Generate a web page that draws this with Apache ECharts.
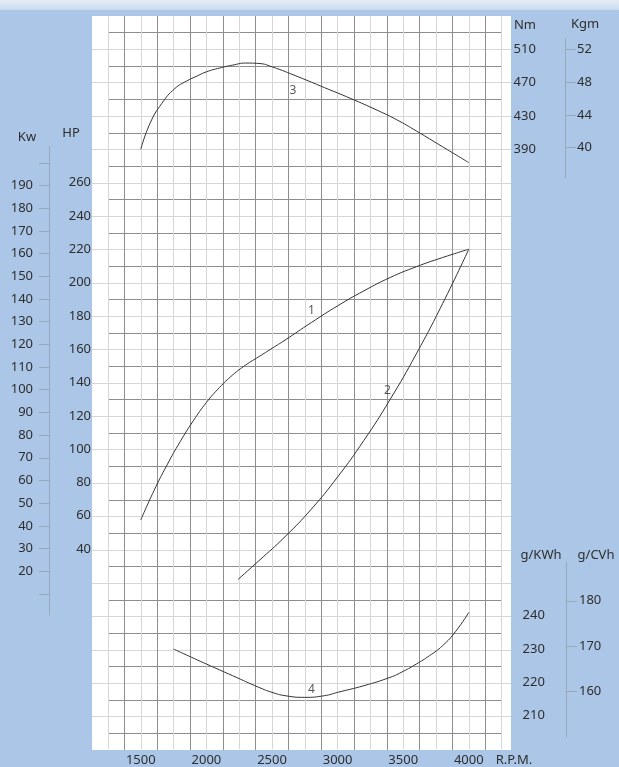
<!DOCTYPE html>
<html><head><meta charset="utf-8">
<script src="https://cdn.jsdelivr.net/npm/echarts@6/dist/echarts.min.js"></script>
<style>html,body{margin:0;padding:0;background:#abc6e6;}#c{width:619px;height:767px;}</style>
</head><body><div id="c"></div>
<script>
// ---------------- DATA ----------------
const rpmTicks = [1500, 2000, 2500, 3000, 3500, 4000];
const hpTicks = [40, 60, 80, 100, 120, 140, 160, 180, 200, 220, 240, 260];
const kwLabels = [20, 30, 40, 50, 60, 70, 80, 90, 100, 110, 120, 130, 140, 150, 160, 170, 180, 190];
const kwTicks = [10, 20, 30, 40, 50, 60, 70, 80, 90, 100, 110, 120, 130, 140, 150, 160, 170, 180, 190, 200];
const nmTicks = [390, 430, 470, 510];
const kgmTicks = [40, 44, 48, 52];
const gkwhTicks = [210, 220, 230, 240];
const gcvhTicks = [160, 170, 180];

// curve 1 : power (HP)
const powerRpm = [1500, 1600, 1700, 1800, 1900, 2000, 2100, 2200, 2300, 2400, 2500, 2600, 2800, 3000, 3200, 3400, 3600, 3800, 4000];
const powerHp  = [57.5, 75, 90.5, 104.5, 117, 128, 137, 144.5, 150.5, 155.5, 160.5, 165.5, 176, 186, 195, 203, 209.5, 215, 220];
// curve 2 : power (HP), second curve
const power2Rpm = [2241, 2400, 2600, 2800, 3000, 3200, 3400, 3600, 3800, 4000];
const power2Hp  = [21.8, 33, 47.5, 64, 83.3, 105.2, 129.8, 157.2, 187.3, 220];
// curve 3 : torque (Nm)
const torqueRpm = [1500, 1570, 1660, 1760, 1850, 1930, 2000, 2100, 2200, 2300, 2400, 2500, 2700, 2900, 3100, 3300, 3450, 3600, 3800, 4000];
const torqueNm  = [390, 421, 445, 463, 472, 478, 483, 487.5, 491, 493.5, 493, 489, 477, 464, 451, 437, 425.5, 412, 393, 374];
// curve 4 : specific fuel consumption (g/kWh)
const fuelRpm  = [1750, 2000, 2200, 2400, 2500, 2600, 2750, 2900, 3000, 3200, 3400, 3500, 3600, 3700, 3800, 3900, 4000];
const fuelGkwh = [230, 225.5, 222, 218.5, 217, 216, 215.5, 216, 217, 219, 221.5, 223.3, 225.5, 228, 231, 235.3, 241];

// curve number labels [text, rpm, value]
const hpCurveLabels = [['1', 2800, 183], ['2', 3380, 135]];
const nmCurveLabels = [['3', 2660, 460]];
const fuelCurveLabels = [['4', 2800, 217.7]];

// unit conversions
const KW_PER_HP = 0.7355;
const NM_PER_KGM = 9.80665;
const CV_PER_KW = 0.7355;

// ---------------- LAYOUT ----------------
const GL = 108, GR = 501.6, GT = 16, GB = 750;    // main grid
const ROWS = 44, RH = (GB - GT) / ROWS;
const COLW = (GR - GL) / 24;
const WL = 92, WR = 511;                           // white paper
function rowAt(y) { return (GB - y) / RH; }
const HP_A = {v: 260, row: 34, per: 10};
const NM_A = {v: 510, row: 42, per: 20};
const G_A  = {v: 210, row: 2,  per: 5};
function valAt(a, y) { return a.v + (rowAt(y) - a.row) * a.per; }

const KW_TOP = 146.7, KW_BOT = 615;
const KGM_TOP = 39, KGM_BOT = 178;
const CV_TOP = 562, CV_BOT = 737;

const FONT = 'Noto Sans';
const TXT = '#2e2e2e';
const LIGHT = '#d6d6d6', DARK = '#8e8e8e', AXC = '#97a8bb';
const lbl = (extra) => Object.assign({fontFamily: FONT, fontSize: 13, color: TXT}, extra);
const plain = v => String(v);

const pair = (xs, ys) => xs.map((x, i) => [x, ys[i]]);
const none = {show: false};
const curve = (yIdx, data) => ({type: 'line', xAxisIndex: 1, yAxisIndex: yIdx, data: data,
  smooth: true, symbol: 'none', lineStyle: {color: '#333', width: 1}, z: 5});
const tags = (yIdx, list) => ({type: 'scatter', xAxisIndex: 1, yAxisIndex: yIdx,
  symbol: 'circle', symbolSize: 1, itemStyle: {color: 'rgba(0,0,0,0)'},
  data: list.map(d => ({name: d[0], value: [d[1], d[2]]})),
  label: lbl({show: true, position: 'inside', formatter: '{b}', fontSize: 12}), z: 6});

const option = {
  animation: false,
  backgroundColor: '#abc6e6',
  grid: [
    {left: WL, top: GT, width: WR - WL, height: GB - GT, show: true, backgroundColor: '#ffffff', borderWidth: 0},
    {left: GL, top: GT, width: GR - GL, height: GB - GT},
    {left: GL, top: GT + RH, width: GR - GL, height: GB - GT - 2 * RH},
    {left: GL + COLW, top: GT, width: GR - GL - 2 * COLW, height: GB - GT},
    {left: 49, top: KW_TOP, width: 20, height: KW_BOT - KW_TOP},
    {left: 565, top: KGM_TOP, width: 20, height: KGM_BOT - KGM_TOP},
    {left: 566, top: CV_TOP, width: 20, height: CV_BOT - CV_TOP}
  ],
  xAxis: [
    {gridIndex: 0, type: 'value', min: 0, max: 1, show: false},
    {gridIndex: 1, type: 'value', min: 1250, max: 4250, interval: 250,
      axisLine: none, axisTick: none,
      splitLine: {show: true, lineStyle: {color: LIGHT, width: 1}},
      axisLabel: lbl({customValues: rpmTicks, margin: 5, formatter: plain})},
    {gridIndex: 2, type: 'value', min: 0, max: 1, show: false},
    {gridIndex: 3, type: 'value', min: 0, max: 2750, interval: 250,
      axisLine: none, axisTick: none, axisLabel: none,
      splitLine: {show: true, lineStyle: {color: DARK, width: 1}}},
    {gridIndex: 4, type: 'value', show: false},
    {gridIndex: 5, type: 'value', show: false},
    {gridIndex: 6, type: 'value', show: false}
  ],
  yAxis: [
    {gridIndex: 0, type: 'value', min: 0, max: ROWS, interval: 2,
      axisLine: none, axisTick: none, axisLabel: none,
      splitLine: {show: true, showMinLine: false, showMaxLine: false, lineStyle: {color: LIGHT, width: 1}}},
    {gridIndex: 1, type: 'value', position: 'left', min: valAt(HP_A, GB), max: valAt(HP_A, GT),
      axisLine: none, axisTick: none, splitLine: none,
      axisLabel: lbl({customValues: hpTicks, margin: 17, formatter: plain})},
    {gridIndex: 1, type: 'value', position: 'right', offset: 0, min: valAt(NM_A, GB), max: valAt(NM_A, GT),
      axisLine: none, axisTick: none, splitLine: none,
      axisLabel: lbl({customValues: nmTicks, margin: 12, formatter: plain})},
    {gridIndex: 1, type: 'value', position: 'right', offset: 0, min: valAt(G_A, GB), max: valAt(G_A, GT),
      axisLine: none, axisTick: none, splitLine: none,
      axisLabel: lbl({customValues: gkwhTicks, margin: 21, formatter: plain})},
    {gridIndex: 2, type: 'value', min: 0, max: ROWS - 2, interval: 2,
      axisLine: none, axisTick: none, axisLabel: none,
      splitLine: {show: true, lineStyle: {color: DARK, width: 1}}},
    {gridIndex: 3, type: 'value', min: 0, max: 1, axisLine: none, axisTick: none, axisLabel: none, splitLine: none},
    {gridIndex: 4, type: 'value', position: 'left',
      min: valAt(HP_A, KW_BOT) * KW_PER_HP, max: valAt(HP_A, KW_TOP) * KW_PER_HP,
      axisLine: {show: true, lineStyle: {color: AXC, width: 1}},
      axisTick: {show: true, customValues: kwTicks, length: 10, lineStyle: {color: AXC}},
      splitLine: none,
      axisLabel: lbl({customValues: kwLabels, margin: 16, formatter: plain})},
    {gridIndex: 5, type: 'value', position: 'left',
      min: valAt(NM_A, KGM_BOT) / NM_PER_KGM, max: valAt(NM_A, KGM_TOP) / NM_PER_KGM,
      axisLine: {show: true, lineStyle: {color: AXC, width: 1}},
      axisTick: {show: true, inside: true, customValues: kgmTicks, length: 11, lineStyle: {color: AXC}},
      splitLine: none,
      axisLabel: lbl({customValues: kgmTicks, inside: true, margin: 12, formatter: plain})},
    {gridIndex: 6, type: 'value', position: 'left',
      min: valAt(G_A, CV_BOT) * CV_PER_KW, max: valAt(G_A, CV_TOP) * CV_PER_KW,
      axisLine: {show: true, lineStyle: {color: AXC, width: 1}},
      axisTick: {show: true, inside: true, customValues: gcvhTicks, length: 11, lineStyle: {color: AXC}},
      splitLine: none,
      axisLabel: lbl({customValues: gcvhTicks, inside: true, margin: 13, formatter: plain})}
  ],
  series: [
    curve(1, pair(powerRpm, powerHp)),
    curve(1, pair(power2Rpm, power2Hp)),
    curve(2, pair(torqueRpm, torqueNm)),
    curve(3, pair(fuelRpm, fuelGkwh)),
    tags(1, hpCurveLabels),
    tags(2, nmCurveLabels),
    tags(3, fuelCurveLabels)
  ],
  graphic: [
    {type: 'rect', left: 0, top: 0, z: -1, shape: {width: 619, height: 10},
      style: {fill: new echarts.graphic.LinearGradient(0, 0, 0, 1, [{offset: 0, color: '#e4edf7'}, {offset: 1, color: '#c9dbef'}])}},
    {type: 'text', x: 525, y: 25, style: {text: 'Nm', font: '13px "Noto Sans"', fill: TXT, align: 'center', verticalAlign: 'middle'}},
    {type: 'text', x: 585, y: 24, style: {text: 'Kgm', font: '13px "Noto Sans"', fill: TXT, align: 'center', verticalAlign: 'middle'}},
    {type: 'text', x: 27, y: 137, style: {text: 'Kw', font: '13px "Noto Sans"', fill: TXT, align: 'center', verticalAlign: 'middle'}},
    {type: 'text', x: 71, y: 133, style: {text: 'HP', font: '13px "Noto Sans"', fill: TXT, align: 'center', verticalAlign: 'middle'}},
    {type: 'text', x: 541, y: 555, style: {text: 'g/KWh', font: '13px "Noto Sans"', fill: TXT, align: 'center', verticalAlign: 'middle'}},
    {type: 'text', x: 596, y: 555, style: {text: 'g/CVh', font: '13px "Noto Sans"', fill: TXT, align: 'center', verticalAlign: 'middle'}},
    {type: 'text', x: 514, y: 760, style: {text: 'R.P.M.', font: '13px "Noto Sans"', fill: TXT, align: 'center', verticalAlign: 'middle'}}
  ]
};
const chart = echarts.init(document.getElementById('c'), null, {renderer: 'canvas'});
chart.setOption(option);
</script></body></html>
